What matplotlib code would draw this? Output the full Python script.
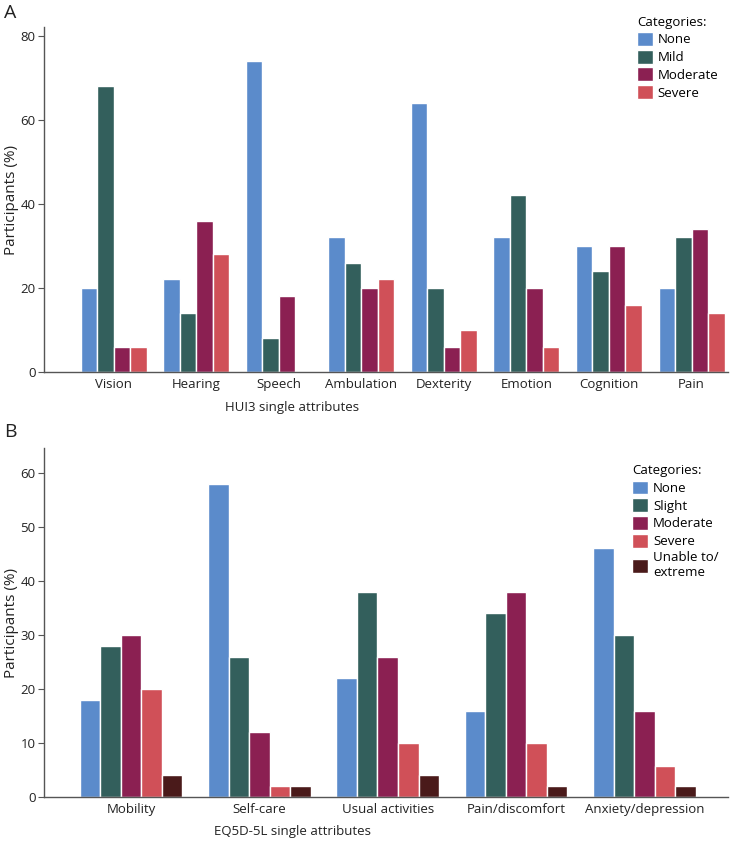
import matplotlib
matplotlib.use('Agg')
import matplotlib.pyplot as plt
import numpy as np

plt.rcParams['font.family'] = ['Open Sans', 'DejaVu Sans']

# panel A data (HUI3)
hui_attrs = ['Vision', 'Hearing', 'Speech', 'Ambulation', 'Dexterity', 'Emotion', 'Cognition', 'Pain']
hui_cats = ['None', 'Mild', 'Moderate', 'Severe']
hui_none = [20, 22, 74, 32, 64, 32, 30, 20]
hui_mild = [68, 14, 8, 26, 20, 42, 24, 32]
hui_moderate = [6, 36, 18, 20, 6, 20, 30, 34]
hui_severe = [6, 28, 0, 22, 10, 6, 16, 14]

# panel B data (EQ5D-5L)
eq_attrs = ['Mobility', 'Self-care', 'Usual activities', 'Pain/discomfort', 'Anxiety/depression']
eq_cats = ['None', 'Slight', 'Moderate', 'Severe', 'Unable to/\nextreme']
eq_none = [18, 58, 22, 16, 46]
eq_slight = [28, 26, 38, 34, 30]
eq_moderate = [30, 12, 26, 38, 16]
eq_severe = [20, 2, 10, 10, 5.8]
eq_unable = [4, 2, 4, 2, 2]

colors = ['#5b8bcb', '#335f5c', '#8b2052', '#d05058', '#4a1a1a']
spine_col = '#555555'
txt_col = '#222222'


def grouped(ax, attrs, cats, series, slot, ylim, yticks, xlim, xlabel, xlab_y, leg_y):
    x = np.arange(len(attrs))
    n = len(series)
    for i, vals in enumerate(series):
        ax.bar(x + (i - (n - 1) / 2) * slot, vals, slot, color=colors[i],
               edgecolor='white', linewidth=1, label=cats[i])
    ax.set_xticks(x)
    ax.set_xticklabels(attrs, fontsize=9.5, color=txt_col)
    ax.tick_params(axis='x', length=0, pad=4)
    ax.tick_params(axis='y', length=4, color=spine_col, labelsize=9.5, labelcolor=txt_col, pad=2)
    ax.set_yticks(yticks)
    ax.set_ylim(*ylim)
    ax.set_xlim(*xlim)
    for s in ['top', 'right']:
        ax.spines[s].set_visible(False)
    for s in ['left', 'bottom']:
        ax.spines[s].set_color(spine_col)
        ax.spines[s].set_linewidth(1)
    ax.set_ylabel('Participants (%)', fontsize=11, color=txt_col)
    ax.yaxis.set_label_coords(-0.036, 0.5)
    ax.set_xlabel(xlabel, fontsize=9.5, color=txt_col)
    ax.xaxis.set_label_coords(0.363, xlab_y)
    leg = ax.legend(title='Categories:', loc='upper right', bbox_to_anchor=(1.0, leg_y),
                    frameon=False, fontsize=9.5, title_fontsize=9.5,
                    handlelength=1.15, handleheight=1.25, handletextpad=0.4,
                    labelspacing=0.25, borderpad=0.2)
    leg._legend_box.align = 'left'


fig = plt.figure(figsize=(7.3, 8.41), dpi=100)
axA = fig.add_axes([0.060, 0.5577, 0.937, 0.410])
axB = fig.add_axes([0.060, 0.0523, 0.937, 0.4150])

grouped(axA, hui_attrs, hui_cats, [hui_none, hui_mild, hui_moderate, hui_severe],
        0.2, (0, 82), [0, 20, 40, 60, 80], (-0.85, 7.44), 'HUI3 single attributes',
        -0.085, 1.06)
grouped(axB, eq_attrs, eq_cats, [eq_none, eq_slight, eq_moderate, eq_severe, eq_unable],
        0.16, (0, 64.6), [0, 10, 20, 30, 40, 50, 60], (-0.68, 4.65), 'EQ5D-5L single attributes',
        -0.08, 0.98)

fig.text(0.005, 0.985, 'A', fontsize=14, va='center', ha='left', color=txt_col)
fig.text(0.005, 0.486, 'B', fontsize=14, va='center', ha='left', color=txt_col)

fig.savefig('out.png', dpi=100)
